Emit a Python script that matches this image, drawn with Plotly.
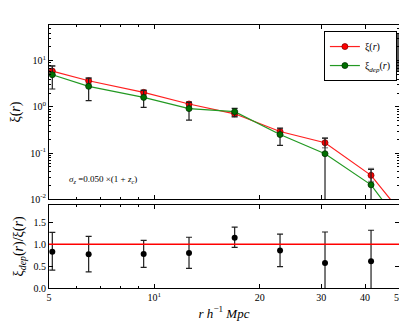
import numpy as np
import plotly.graph_objects as go
from plotly.subplots import make_subplots

# separation bins (h^-1 Mpc)
r = [5.11, 6.49, 9.32, 12.56, 16.96, 22.86, 30.73, 41.6, 56.0]

# full correlation function with (gray) errors
xi = [5.99, 3.70, 2.07, 1.16, 0.71, 0.293, 0.167, 0.0328, 0.0020]
xi_hi = [7.6, 4.25, 2.30, 1.30, 0.80, 0.35, 0.21, 0.046, 0.0030]
xi_lo = [5.0, 3.20, 1.85, 1.02, 0.63, 0.24, 0.13, 0.024, 0.0010]

# deprojected correlation function with (black) errors
xi_dep = [5.0, 2.80, 1.61, 0.92, 0.79, 0.252, 0.0966, 0.0204, 0.0010]
dep_hi = [7.8, 4.20, 2.28, 1.26, 0.93, 0.345, 0.21, 0.044, 0.0015]
dep_lo = [2.45, 1.37, 0.98, 0.52, 0.61, 0.146, -0.05, -0.02, 0.0005]

# ratio panel
ratio = [0.83, 0.77, 0.78, 0.80, 1.15, 0.86, 0.57, 0.61]
ratio_hi = [1.27, 1.18, 1.09, 1.16, 1.39, 1.23, 1.28, 1.32]
ratio_lo = [0.41, 0.37, 0.47, 0.45, 0.93, 0.49, -0.10, -0.10]

FONT = "Liberation Serif"
fig = make_subplots(rows=2, cols=1, shared_xaxes=True,
                    row_heights=[0.662, 0.316], vertical_spacing=0.022)


def errs(val, hi, lo, floor=None):
    v = np.array(val)
    l = np.array(lo, dtype=float)
    if floor is not None:
        l = np.maximum(l, floor)
    return np.array(hi) - v, v - l


up, dn = errs(xi, xi_hi, xi_lo)
fig.add_trace(go.Scatter(
    x=r, y=xi, mode="lines+markers", name="ξ(<i>r</i>)",
    line=dict(color="#ff2020", width=1.2),
    marker=dict(color="red", size=6, line=dict(color="#800000", width=0.8)),
    error_y=dict(type="data", array=up, arrayminus=dn, color="#999999",
                 thickness=1.5, width=3)), row=1, col=1)

up, dn = errs(xi_dep, dep_hi, dep_lo, floor=1e-5)
fig.add_trace(go.Scatter(
    x=r, y=xi_dep, mode="lines+markers", name="ξ<sub><i>dep</i></sub>(<i>r</i>)",
    line=dict(color="#229922", width=1.2),
    marker=dict(color="#007000", size=6, line=dict(color="#003000", width=0.8)),
    error_y=dict(type="data", array=up, arrayminus=dn, color="#202020",
                 thickness=1.2, width=3)), row=1, col=1)

up, dn = errs(ratio, ratio_hi, ratio_lo)
fig.add_trace(go.Scatter(
    x=r[:8], y=ratio, mode="markers", showlegend=False,
    marker=dict(color="black", size=6),
    error_y=dict(type="data", array=up, arrayminus=dn, color="#202020",
                 thickness=1.2, width=3)), row=2, col=1)

fig.add_shape(type="line", xref="x2 domain", yref="y2", x0=0, x1=1, y0=1, y1=1,
              line=dict(color="red", width=1.6))

xt = [5, 10, 20, 30, 40, 50]
xl = ["5", "10<sup>1</sup>", "20", "30", "40", "50"]
common = dict(ticks="inside", mirror="allticks", showline=True, linecolor="black",
              linewidth=1, showgrid=False, zeroline=False, tickcolor="black",
              automargin=False,
              tickfont=dict(family=FONT, size=10, color="black"))

fig.update_xaxes(type="log", range=[np.log10(5), np.log10(50)], tickvals=xt,
                 ticktext=xl, ticklen=4,
                 minor=dict(tickvals=[6, 7, 8, 9], ticks="inside", ticklen=2,
                            tickcolor="black"), **common)
fig.update_xaxes(showticklabels=False, row=1, col=1)
fig.update_xaxes(title=dict(text="<i>r h</i><sup>−1</sup> <i>Mpc</i>",
                            font=dict(family=FONT, size=13, color="black"),
                            standoff=6), row=2, col=1)

yminor = [m * 10.0 ** e for e in range(-2, 2) for m in range(2, 10)]
fig.update_yaxes(type="log", range=[-2, np.log10(60)],
                 tickvals=[0.01, 0.1, 1, 10],
                 ticktext=["10<sup>-2</sup>", "10<sup>-1</sup>", "10<sup>0</sup>", "10<sup>1</sup>"],
                 ticklen=4,
                 minor=dict(tickvals=yminor, ticks="inside", ticklen=2, tickcolor="black"),
                 title=dict(text="ξ(<i>r</i>)", font=dict(family=FONT, size=14, color="black"),
                            standoff=6),
                 row=1, col=1, **common)
fig.update_yaxes(range=[0, 1.9], tickvals=[0, 0.5, 1.0, 1.5],
                 ticktext=["0.0", "0.5", "1.0", "1.5"], ticklen=4,
                 title=dict(text="ξ<sub><i>dep</i></sub>(<i>r</i>)/ξ(<i>r</i>)",
                            font=dict(family=FONT, size=14, color="black"), standoff=6),
                 row=2, col=1, **common)

fig.add_annotation(xref="x domain", yref="y domain", x=0.05, y=0.07,
                   xanchor="left", yanchor="bottom", showarrow=False,
                   text="<i>σ<sub>z</sub></i> =0.050 ×(1 + <i>z<sub>c</sub></i>)",
                   font=dict(family=FONT, size=9, color="black"))

# legend drop shadow
fig.add_shape(type="rect", xref="paper", yref="paper", x0=0.803, x1=1.003,
              y0=0.821, y1=0.966, fillcolor="#555555", line=dict(width=0), layer="below")

# page body keeps its 8px margin, so the figure is 8px smaller and margins shifted
fig.update_layout(
    width=399, height=319,
    margin=dict(l=41, r=8, t=17, b=39),
    paper_bgcolor="white", plot_bgcolor="white",
    font=dict(family=FONT, color="black"),
    legend=dict(x=0.994, y=0.977, xanchor="right", yanchor="top",
                bgcolor="white", bordercolor="black", borderwidth=1,
                font=dict(family=FONT, size=10), tracegroupgap=0,
                itemwidth=30),
)

fig.write_html("out.html")
